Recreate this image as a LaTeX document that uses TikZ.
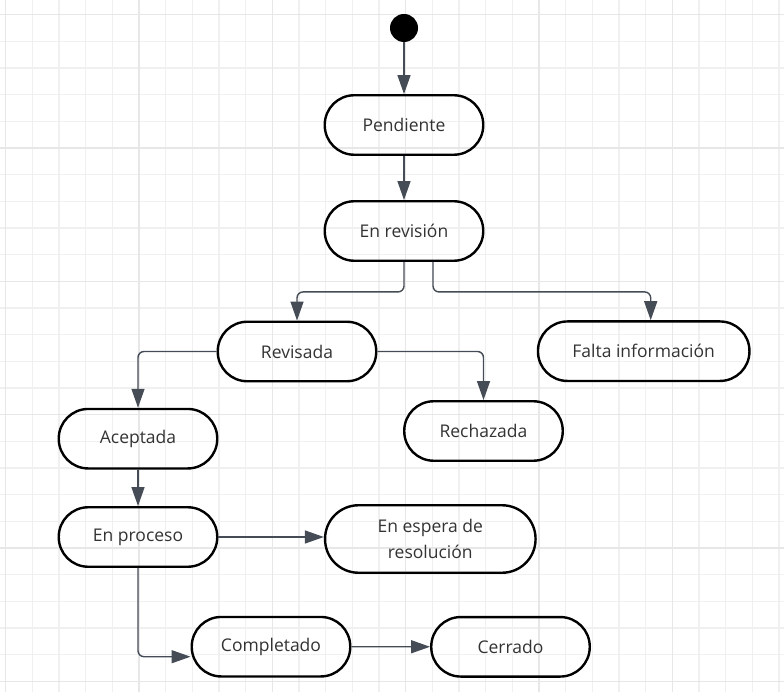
\documentclass[tikz,border=0pt]{standalone}
\usepackage{fontspec}
\setmainfont{Open Sans}
\usetikzlibrary{arrows.meta}
\definecolor{gridminor}{HTML}{F0F0F0}
\definecolor{gridmajor}{HTML}{E7E7E7}
\definecolor{linkgray}{HTML}{454C55}
\definecolor{labelgray}{HTML}{333333}

\begin{document}
\begin{tikzpicture}[x=1pt,y=-1pt,>={Triangle[length=19pt,width=13pt]},
  statebox/.style={draw,line width=2.4pt,rounded corners=29.5pt,minimum width=158.5pt,minimum height=59.5pt,inner sep=0pt,align=center,text=labelgray,font=\fontsize{17.5}{26}\selectfont},
  link/.style={->,draw=linkgray,line width=1.4pt,rounded corners=6pt}]
  \useasboundingbox (0,0) rectangle (784,692);
  % background grid
  \begin{scope}
    \clip (0,0) rectangle (784,692);
    \foreach \k in {0,...,29} {
      \draw[gridminor,line width=1.2pt] ({5.7+26.667*\k},0) -- ++(0,692);
      \draw[gridminor,line width=1.2pt] (0,{14.7+26.667*\k}) -- ++(784,0);
    }
    \foreach \k in {0,...,5} {
      \draw[gridmajor,line width=1.2pt] ({5.7+133.33*\k},0) -- ++(0,692);
      \draw[gridmajor,line width=1.2pt] (0,{14.7+133.33*\k}) -- ++(784,0);
    }
  \end{scope}

  % states
  \node[circle,fill=black,minimum size=28pt,inner sep=0pt] (ini) at (404,28) {};
  \node[statebox] (pend) at (404,125) {Pendiente};
  \node[statebox] (enrev) at (404,231) {En revisión};
  \node[statebox] (revis) at (297,351.5) {Revisada};
  \node[statebox,minimum width=211.5pt] (falta) at (643.7,351.2) {Falta información};
  \node[statebox] (rech) at (483.5,431) {Rechazada};
  \node[statebox] (acep) at (138,438.7) {Aceptada};
  \node[statebox] (proc) at (138,537) {En proceso};
  \node[statebox,minimum width=210.5pt,minimum height=67.5pt,rounded corners=33.5pt] (espera) at (430.3,539) {En espera de\\resolución};
  \node[statebox] (compl) at (271,646.7) {Completado};
  \node[statebox] (cerr) at (510.5,646.8) {Cerrado};

  % transitions
  \draw[link] (ini) -- (pend);
  \draw[link] (pend) -- (enrev);
  \draw[link] (enrev.south) -- ++(0,30) -| (revis.north);
  \draw[link] ([xshift=29pt]enrev.south) -- ++(0,30) -| ([xshift=7pt]falta.north);
  \draw[link] (revis.west) -| (acep.north);
  \draw[link] (revis.east) -| (rech.north);
  \draw[link] (acep) -- (proc);
  \draw[link] (proc.east) -- (proc.east -| espera.west);
  \draw[link] (proc.south) |- ([yshift=-10pt]compl.west);
  \draw[link] (compl) -- (cerr);
\end{tikzpicture}
\end{document}
